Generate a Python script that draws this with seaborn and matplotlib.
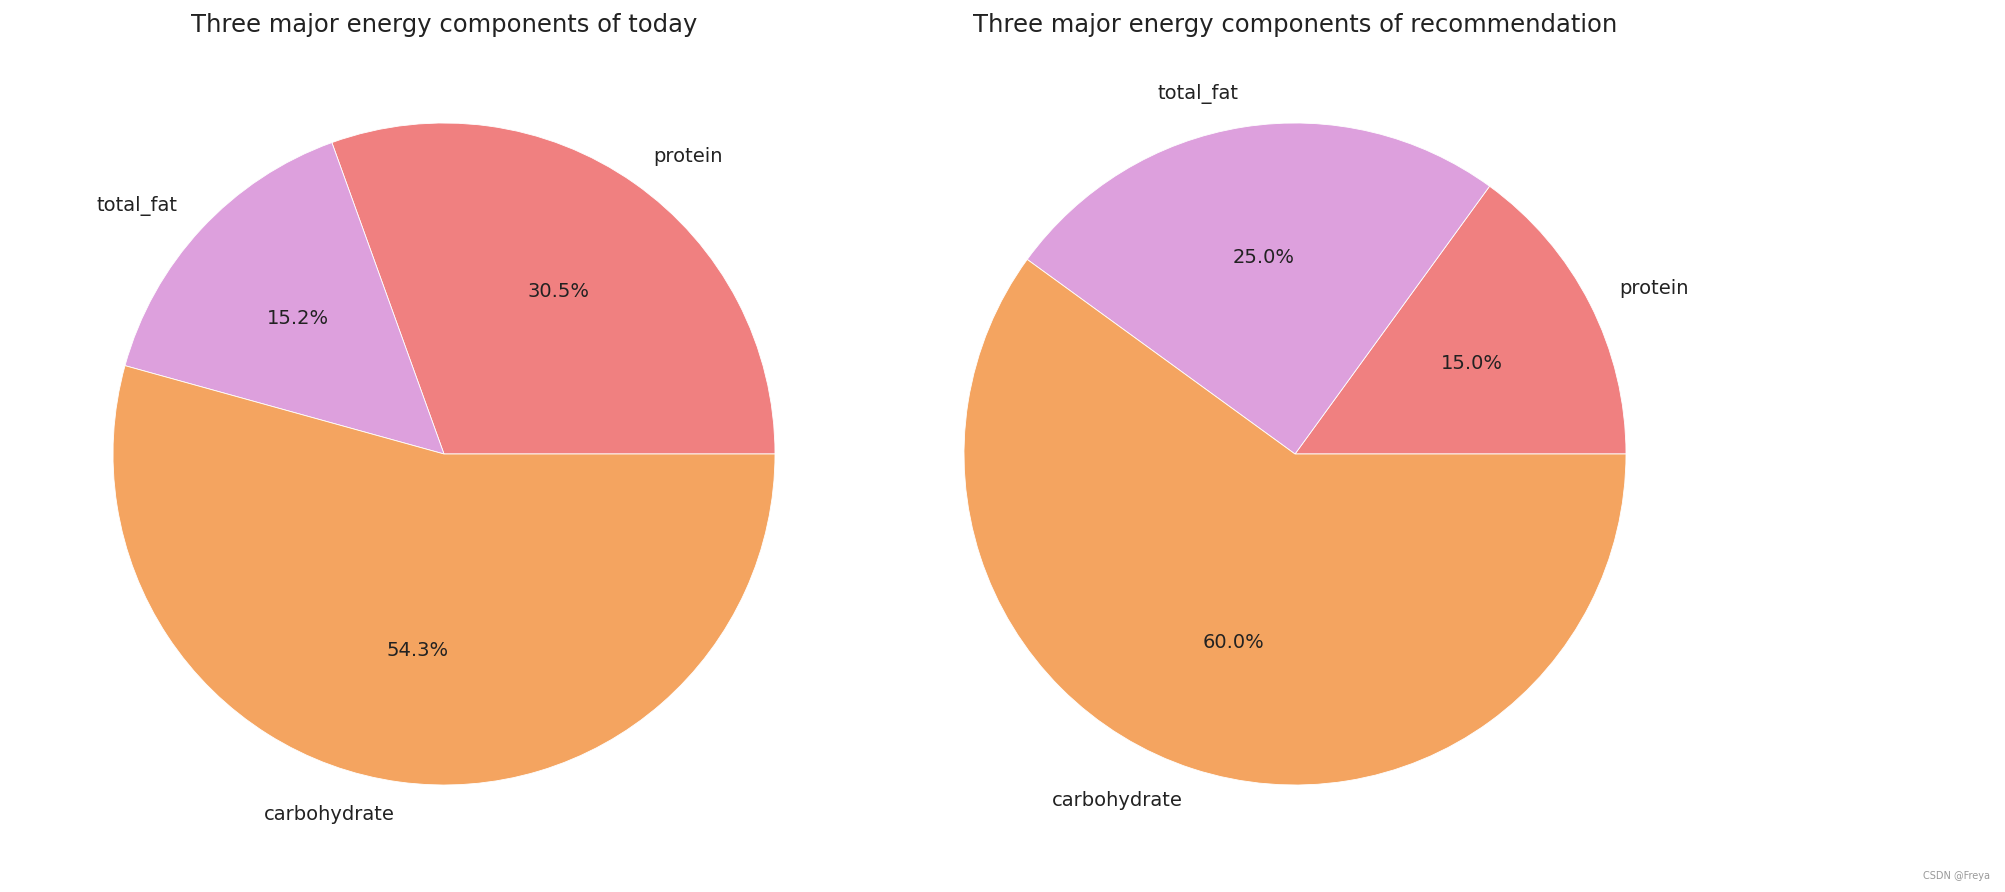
import matplotlib
matplotlib.use("Agg")
import matplotlib.pyplot as plt
import seaborn as sns

sns.set_theme(style="white")
plt.rcParams['font.family'] = ['DejaVu Sans']

categories = ["protein", "total_fat", "carbohydrate"]
today_values = [30.5, 15.2, 54.3]
recommend_values = [15.0, 25.0, 60.0]
titles = ["Three major energy components of today",
          "Three major energy components of recommendation"]
colors = sns.color_palette(["lightcoral", "plum", "sandybrown"])

W, H = 2006, 892
fig = plt.figure(figsize=(W / 100, H / 100), dpi=100)

R = 331
side = R * 2.5
centers = [(444, 454), (1295, 454)]

for (cx, cy), vals, title in zip(centers, [today_values, recommend_values], titles):
    ax = fig.add_axes([(cx - side / 2) / W, (H - cy - side / 2) / H, side / W, side / H])
    ax.pie(vals, labels=categories, colors=colors, autopct="%1.1f%%",
           wedgeprops={"linewidth": 0.6},
           textprops={"fontsize": 14, "color": "#222222"})
    ax.set_title(title, fontsize=17.5, color="#222222", pad=6)

fig.text(0.992, 0.012, "CSDN @Freya", ha="right", va="bottom", fontsize=7, color="#999999")

fig.savefig("out.png", dpi=100, facecolor="white")
